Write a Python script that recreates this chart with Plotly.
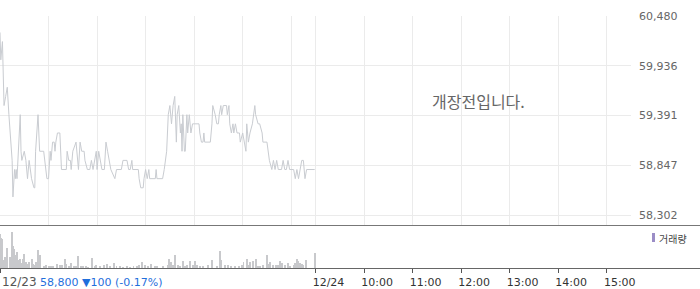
import plotly.graph_objects as go

# ---- data ----
# minutes from 12/23 09:00 (12/24 09:00 == 390)
price_minutes = [0, 1, 3, 5, 7, 9, 11, 13, 15, 16, 18, 19, 20, 21, 23, 25, 26, 27, 30, 32, 34, 36, 39, 42, 43,
                 44, 47, 49, 54, 58, 60, 62, 63, 65, 67, 68, 69, 71, 74, 76, 82, 83, 85, 87, 88, 90, 94, 97, 99,
                 101, 104, 105, 108, 111, 113, 115, 119, 120, 122, 126, 129, 131, 133, 135, 137, 142, 144, 150,
                 152, 157, 159, 161, 163, 164, 171, 172, 174, 177, 178, 180, 182, 184, 185, 192, 193, 194, 201,
                 203, 206, 208, 210, 212, 214, 216, 218, 219, 221, 223, 224, 225, 226, 228, 229, 231, 232, 234,
                 236, 238, 246, 247, 249, 251, 252, 253, 260, 262, 263, 266, 268, 270, 271, 273, 274, 276, 280,
                 281, 283, 284, 286, 288, 289, 291, 293, 296, 297, 300, 304, 305, 307, 309, 312, 315, 316, 319,
                 321, 324, 325, 330, 333, 336, 338, 340, 342, 344, 348, 350, 352, 354, 356, 358, 363, 365, 367,
                 369, 371, 373, 375, 377, 379, 389]
prices = [60300, 60000, 60200, 59500, 59600, 59700, 59400, 59100, 58900, 58500, 58800, 58700, 58800, 58700, 59000,
          59400, 59000, 58900, 59000, 58900, 58700, 58900, 58700, 58600, 58600,
          59000, 59400, 59000, 59000, 58700, 58700, 59000, 58900, 59100, 59100, 59000, 59100, 59200, 59200, 58800,
          58800, 59000, 58900, 58900, 58800, 59000, 59100, 58800, 59100,
          59000, 59000, 58900, 58800, 58800, 58900, 58800, 59000, 58800, 59000, 58800, 58800, 59100, 59000, 58900,
          58800, 58700, 58800, 58800,
          58900, 58900, 58800, 58800, 58900, 58800, 58800, 58700, 58600, 58600, 58700, 58800, 58700, 58800, 58700,
          58700, 58800, 58700, 58700,
          58800, 59000, 59400, 59500, 59300, 59500, 59600, 59100, 59400, 59500, 59200, 59300, 59000, 59400, 59000,
          59000, 59400, 59200, 59400,
          59200, 59300, 59300, 59200, 59100, 59100, 59200, 59100, 59100, 59300, 59500, 59400, 59300, 59300, 59400,
          59500, 59400, 59500, 59500,
          59400, 59500, 59300, 59200, 59300, 59200, 59300, 59200, 59200, 59100, 59200, 59000, 59300, 59100, 59200,
          59300, 59500, 59400, 59300,
          59300, 59200, 59100, 59100, 58900, 58800, 58900, 58800, 58900, 58800, 58800, 58900, 58800, 58800, 58900,
          58800, 58800, 58700, 58800,
          58700, 58800, 58900, 58900, 58700, 58800, 58800]

vol_minutes = [0, 1, 2, 4, 6, 9, 12, 14, 15, 16, 17, 19, 21, 23, 25, 27, 29, 30, 32, 34, 36, 39, 41, 43, 45, 47,
               49, 50, 54, 57, 60, 63, 66, 71, 74, 77, 80, 82, 85, 88, 91, 94, 97, 100, 103, 106, 109, 114, 117,
               119, 124, 128, 132, 136, 141, 144, 148, 152, 157, 161, 165, 169, 172, 175, 179, 183, 187, 192, 194,
               202, 208, 209, 211, 214, 216, 220, 223, 226, 229, 231, 235, 238, 241, 244, 247, 251, 257, 262, 268,
               272, 273, 278, 282, 286, 290, 295, 299, 301, 305, 307, 309, 313, 316, 319, 321, 325, 330, 332, 334,
               338, 341, 344, 346, 348, 352, 356, 359, 363, 365, 367, 368, 371, 373, 375, 378, 389]
volumes = [272, 240, 232, 64, 88, 160, 88, 72, 288, 176, 152, 104, 128, 64, 72, 40, 72, 112, 48, 32, 48, 72, 32,
           24, 48, 144, 104, 32, 16, 24, 16, 16, 16, 32, 24, 24, 72, 32, 16, 40, 16, 16, 96, 16, 16, 16, 8, 80,
           16, 24, 16, 24, 32, 16, 40, 16, 16, 8, 16, 8, 16, 16, 24, 48, 24, 16, 32, 16, 16,
           16, 24, 72, 48, 24, 104, 24, 16, 56, 16, 24, 56, 24, 56, 24, 16, 16, 24, 64, 16,
           136, 64, 24, 24, 16, 16, 16, 24, 48, 72, 24, 48, 56, 72, 16, 16, 24, 104, 32, 48,
           24, 24, 24, 56, 40, 24, 40, 16, 24, 40, 72, 56, 40, 32, 24, 64, 120]

price_tick_values = [58302, 58847, 59391, 59936, 60480]
price_tick_labels = ["58,302", "58,847", "59,391", "59,936", "60,480"]

grid_minutes = [60, 120, 180, 240, 300, 360, 390, 450, 510, 570, 630, 690, 750]
time_tick_minutes = [0, 390, 450, 510, 570, 630, 690, 750]
time_tick_labels = ["", "12/24", "10:00", "11:00", "12:00", "13:00", "14:00", "15:00"]

day_label = "12/23"
last_price_text = "58,800 ▼100 (-0.17%)"
status_text = "개장전입니다."
volume_name = "거래량"

# ---- layout geometry ----
W, H = 700, 289
ML, MR, MT, MB = 0, 69, 16, 21
PW, PH = W - ML - MR, H - MT - MB


def py(pix):
    return (H - MB - pix) / PH


def px(pix):
    return (pix - ML) / PW


fig = go.Figure()
fig.add_trace(go.Scatter(x=price_minutes, y=prices, mode="lines", xaxis="x", yaxis="y",
                         line=dict(color="#c9ccd1", width=1), hoverinfo="skip", showlegend=False))
fig.add_trace(go.Bar(x=vol_minutes, y=volumes, xaxis="x2", yaxis="y2", width=1.2,
                     marker=dict(color="#c8c9cc", line=dict(width=0)), hoverinfo="skip", showlegend=False))

vmax = max(volumes) * 42 / 36
font_main = "DejaVu Sans"

fig.update_layout(
    width=W, height=H,
    margin=dict(l=ML, r=MR, t=MT, b=MB),
    paper_bgcolor="white", plot_bgcolor="white",
    bargap=0,
    xaxis=dict(domain=[0, 1], anchor="y", range=[0, 780], tickvals=grid_minutes, showticklabels=False,
               ticks="", showgrid=True, gridcolor="#ebebeb", gridwidth=1, zeroline=False, showline=False),
    xaxis2=dict(domain=[0, 1], anchor="y2", range=[0, 780], matches="x", tickvals=time_tick_minutes,
                ticktext=time_tick_labels, ticks="outside", ticklen=4, tickcolor="#555", tickwidth=1,
                ticklabelshift=13,
                showgrid=False, zeroline=False, showline=False,
                tickfont=dict(family=font_main, size=11, color="#333")),
    yaxis=dict(domain=[py(225), 1], anchor="x", side="right", range=[58193, 60480],
               tickvals=price_tick_values, ticktext=price_tick_labels, ticks="",
               showgrid=True, gridcolor="#ebebeb", zeroline=False, showline=False, ticklabelstandoff=7,
               tickfont=dict(family=font_main, size=11, color="#666")),
    yaxis2=dict(domain=[0, py(226)], anchor="x2", range=[0, vmax], visible=False, showgrid=False),
    shapes=[
        dict(type="line", xref="paper", yref="paper", x0=px(0), x1=px(700), y0=py(225.5), y1=py(225.5),
             line=dict(color="#777", width=1), layer="above"),
        dict(type="line", xref="paper", yref="paper", x0=px(0), x1=px(700), y0=py(268.5), y1=py(268.5),
             line=dict(color="#666", width=1), layer="above"),
        dict(type="rect", xref="paper", yref="paper", x0=px(652), x1=px(655), y0=py(242), y1=py(233),
             fillcolor="#9b8dc6", line=dict(width=0)),
    ],
    annotations=[
        dict(text=volume_name, xref="paper", yref="paper", x=px(657), y=py(238), xanchor="left",
             yanchor="middle", showarrow=False, font=dict(family="Noto Sans CJK KR", size=10, color="#444")),
        dict(text=status_text, xref="paper", yref="paper", x=px(478), y=py(101), xanchor="center",
             yanchor="middle", showarrow=False, font=dict(family="Noto Sans CJK KR", size=16, color="#666")),
        dict(text=day_label, xref="paper", yref="paper", x=px(0), y=py(282), xanchor="left",
             yanchor="middle", showarrow=False, font=dict(family=font_main, size=12, color="#555")),
        dict(text=last_price_text, xref="paper", yref="paper", x=px(38), y=py(282), xanchor="left",
             yanchor="middle", showarrow=False, font=dict(family=font_main, size=11, color="#1f6fdc")),
    ],
)

fig.write_html("out.html")
